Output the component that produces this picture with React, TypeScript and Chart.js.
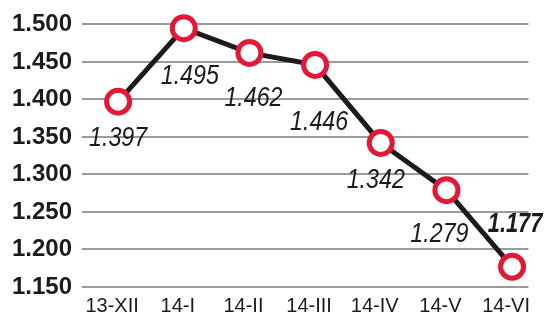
import React, { useEffect, useRef } from "react";
import { Chart, registerables } from "chart.js";

Chart.register(...registerables);

const categories = ["13-XII", "14-I", "14-II", "14-III", "14-IV", "14-V", "14-VI"];
const values = [1.397, 1.495, 1.462, 1.446, 1.342, 1.279, 1.177];
const valueLabels = ["1.397", "1.495", "1.462", "1.446", "1.342", "1.279", "1.177"];
const boldLabel = [false, false, false, false, false, false, true];
// label centre offsets relative to the point (styling)
const labelDx = [0, 6, 4, 4, -5, -7, 3];
const labelDy = [35, 46, 43.5, 55, 35, 42, -44.5];
const yTicks = [1.15, 1.2, 1.25, 1.3, 1.35, 1.4, 1.45, 1.5];

const FONT = "'Liberation Sans', Arial, Helvetica, sans-serif";
const TEXT = "#1d1a1b";
const RED = "#e31837";

const labelPlugin = {
  id: "valueLabels",
  beforeDatasetsDraw(chart: any) {
    const ctx = chart.ctx;
    const meta = chart.getDatasetMeta(0);
    meta.data.forEach((pt: any, i: number) => {
      const size = 27;
      const cx = pt.x + labelDx[i];
      const cy = pt.y + labelDy[i];
      ctx.save();
      ctx.font = `italic ${boldLabel[i] ? "bold " : ""}${size}px ${FONT}`;
      ctx.fillStyle = TEXT;
      ctx.textAlign = "center";
      ctx.textBaseline = "alphabetic";
      ctx.translate(cx, cy + size * 0.358);
      ctx.scale(boldLabel[i] ? 0.81 : 0.86, 1);
      ctx.fillText(valueLabels[i], 0, 0);
      ctx.restore();
    });
  },
};

export default function App() {
  const ref = useRef<HTMLCanvasElement | null>(null);
  useEffect(() => {
    if (!ref.current) return;
    const chart = new Chart(ref.current, {
      type: "line",
      data: {
        datasets: [
          {
            data: values.map((v, i) => ({ x: i, y: v })),
            borderColor: TEXT,
            borderWidth: 5,
            pointRadius: 11.5,
            pointHoverRadius: 11.5,
            pointBorderWidth: 5,
            pointBackgroundColor: "#ffffff",
            pointBorderColor: RED,
            tension: 0,
            clip: false as any,
          },
        ],
      },
      options: {
        responsive: false,
        animation: false,
        layout: { padding: { top: 21, right: 16, left: 0, bottom: 0 } },
        plugins: { legend: { display: false }, tooltip: { enabled: false } },
        scales: {
          x: {
            type: "linear",
            min: -0.55,
            max: 6.25,
            grid: { display: false },
            border: { display: false },
            afterBuildTicks: (scale: any) => {
              scale.ticks = categories.map((_, i) => ({ value: i }));
            },
            afterFit: (scale: any) => {
              scale.height = 26;
            },
            ticks: {
              autoSkip: false,
              maxRotation: 0,
              padding: -1,
              labelOffset: -6,
              color: TEXT,
              font: { family: FONT, size: 20 },
              callback: (v: any) => categories[Math.round(Number(v))] ?? "",
            },
          },
          y: {
            min: 1.15,
            max: 1.5,
            afterBuildTicks: (scale: any) => {
              scale.ticks = yTicks.map((v) => ({ value: v }));
            },
            afterFit: (scale: any) => {
              scale.width = 82;
            },
            grid: { color: "#9b9b9b", lineWidth: 2, drawTicks: false },
            border: { display: false },
            ticks: {
              padding: 10,
              color: TEXT,
              font: { family: FONT, size: 24, weight: "bold" },
              callback: (v: any) => Number(v).toFixed(3),
            },
          },
        },
      },
      plugins: [labelPlugin],
    });
    return () => chart.destroy();
  }, []);
  return (
    <div style={{ position: "absolute", left: 0, top: 0, width: 545, height: 313, background: "#fff" }}>
      <canvas ref={ref} width={545} height={313} />
    </div>
  );
}
